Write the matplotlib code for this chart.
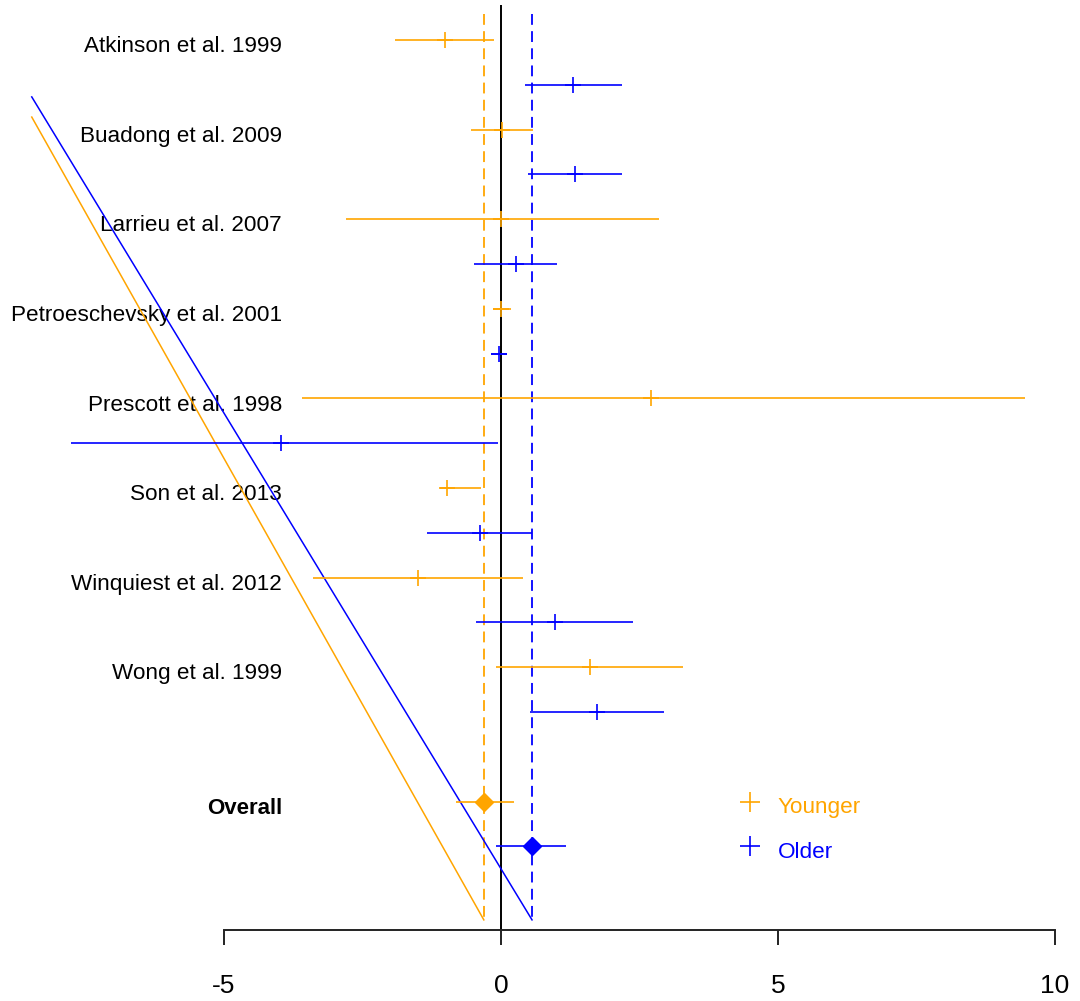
import numpy as np
import matplotlib.pyplot as plt

plt.rcParams['font.family'] = ['Liberation Sans', 'DejaVu Sans']
plt.rcParams['axes.unicode_minus'] = False

# study estimates (younger / older age groups)
studies = ['Atkinson et al. 1999', 'Buadong et al. 2009', 'Larrieu et al. 2007',
           'Petroeschevsky et al. 2001', 'Prescott et al. 1998', 'Son et al. 2013',
           'Winquiest et al. 2012', 'Wong et al. 1999']
young_est = [-1.01, 0.02, 0.00, 0.00, 2.71, -0.97, -1.50, 1.61]
young_lo = [-1.91, -0.54, -2.80, -0.14, -3.59, -1.10, -3.39, -0.09]
young_hi = [-0.13, 0.58, 2.85, 0.18, 9.46, -0.36, 0.40, 3.29]
old_est = [1.30, 1.34, 0.27, -0.04, -3.97, -0.38, 0.97, 1.73]
old_lo = [0.43, 0.49, -0.49, -0.18, -7.76, -1.34, -0.45, 0.52]
old_hi = [2.18, 2.18, 1.01, 0.11, -0.05, 0.56, 2.38, 2.94]

# pooled
overall_young = [-0.31, -0.81, 0.23]   # est, lo, hi
overall_old = [0.56, -0.09, 1.17]

# slanted reference lines (x start, y start, x end, y end)
slant_young = [-8.47, 1.72, -0.31, 19.64]
slant_old = [-8.47, 1.27, 0.56, 19.64]

xticks = [-5, 0, 5, 10]
legend_labels = ['Younger', 'Older']

ORANGE = '#FFA500'
BLUE = '#0000FF'

fig = plt.figure(figsize=(10.8, 10.01), dpi=100)
ax = fig.add_axes([0, 71 / 1001, 1, 930 / 1001])
ax.set_xlim(-501 / 55.4, (1080 - 501) / 55.4)
ax.set_ylim(19.866, -0.893)

young_rows = np.arange(len(studies)) * 2
old_rows = young_rows + 1
overall_rows = [17, 18]

# reference lines
ax.vlines(0, -0.78, 19.866, color='black', lw=1.4, zorder=2)
ax.vlines(overall_young[0], -0.58, 19.64, color=ORANGE, lw=1.3, linestyles=(0, (6, 3.5)), zorder=2)
ax.vlines(overall_old[0], -0.58, 19.64, color=BLUE, lw=1.3, linestyles=(0, (6, 3.5)), zorder=2)
ax.plot(slant_young[0::2], slant_young[1::2], color=ORANGE, lw=1.1, zorder=2)
ax.plot(slant_old[0::2], slant_old[1::2], color=BLUE, lw=1.1, zorder=2)

# study CIs
ax.hlines(young_rows, young_lo, young_hi, color=ORANGE, lw=1.2, zorder=3)
ax.plot(young_est, young_rows, '+', color=ORANGE, ms=11.5, mew=1.2, zorder=3)
ax.hlines(old_rows, old_lo, old_hi, color=BLUE, lw=1.2, zorder=3)
ax.plot(old_est, old_rows, '+', color=BLUE, ms=11.5, mew=1.2, zorder=3)

# overall
ax.hlines(overall_rows[0], overall_young[1], overall_young[2], color=ORANGE, lw=1.2, zorder=3)
ax.plot(overall_young[0], overall_rows[0], 'D', color=ORANGE, ms=9, zorder=4)
ax.hlines(overall_rows[1], overall_old[1], overall_old[2], color=BLUE, lw=1.2, zorder=3)
ax.plot(overall_old[0], overall_rows[1], 'D', color=BLUE, ms=9.5, zorder=4)

# labels
lab_x = (282 - 501) / 55.4
for s, r in zip(studies, young_rows):
    ax.text(lab_x, r + 0.27, s, ha='right', va='baseline', fontsize=16.2, zorder=1)
ax.text(lab_x, overall_rows[0] + 0.27, 'Overall', ha='right', va='baseline',
        fontsize=16, fontweight='bold', zorder=1)

# legend
leg_x = (750 - 501) / 55.4
for lab, r, c in zip(legend_labels, overall_rows, [ORANGE, BLUE]):
    ax.plot(leg_x, r, '+', color=c, ms=14.5, mew=1.2)
    ax.text(leg_x + 0.5, r + 0.25, lab, color=c, ha='left', va='baseline', fontsize=16.2)

# axis
for side in ['left', 'right', 'top']:
    ax.spines[side].set_visible(False)
ax.spines['bottom'].set_bounds(-5, 10)
ax.spines['bottom'].set_linewidth(1.4)
ax.spines['bottom'].set_color('#222222')
ax.set_yticks([])
ax.set_xticks(xticks)
ax.set_xticklabels([str(t) for t in xticks])
ax.tick_params(axis='x', length=11, width=1.4, color='#222222', labelsize=19, pad=21)

fig.savefig('out.png', dpi=100)
